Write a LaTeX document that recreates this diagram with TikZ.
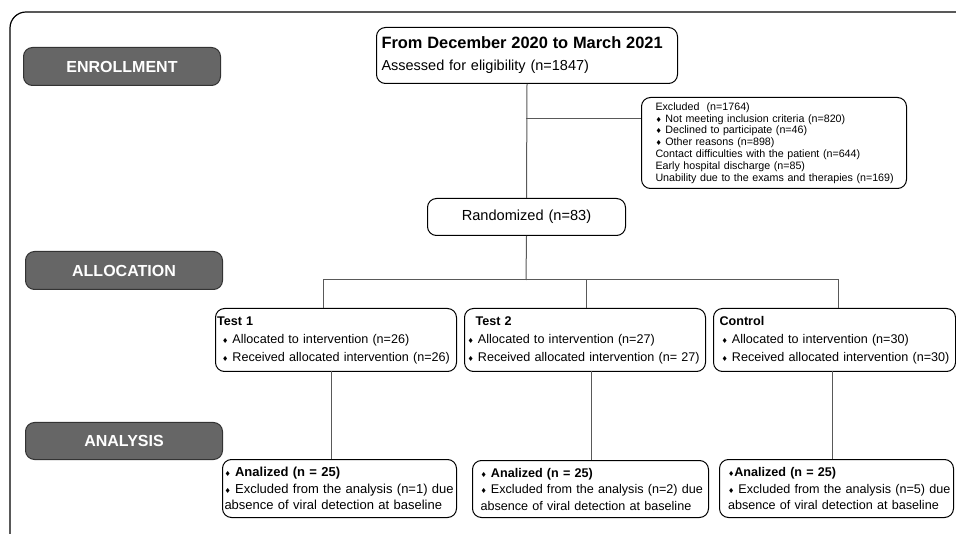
\documentclass[tikz,border=0pt]{standalone}
\usepackage{fontspec}
\setmainfont{Liberation Sans}
\newfontfamily\symf{DejaVu Sans}
\newcommand\dmd{{\symf\fontsize{7}{7}\selectfont ♦}}
\newcommand\ind[1]{\hspace*{#1}}
\begin{document}
\begin{tikzpicture}[x=1pt,y=-1pt,
 box/.style={draw=black, line width=1pt, rounded corners=9pt, anchor=north west, inner ysep=0pt, align=left},
 lbl/.style={draw=black!80, fill=black!60, line width=1pt, rounded corners=9pt, anchor=north west, minimum width=197pt, minimum height=38pt, inner sep=0pt, text=white, font=\fontsize{16}{16}\selectfont\bfseries},
 conn/.style={draw=black!65, line width=1pt}]
\useasboundingbox (0,0) rectangle (956,534);
\fill[white] (0,0) rectangle (956,534);
\draw[line width=1.2pt, rounded corners=16pt] (10,545) -- (10,12) -- (975,12);

% phase labels
\node[lbl] (enr) at (23,47) {ENROLLMENT};
\node[lbl] (alloc) at (25,251) {ALLOCATION};
\node[lbl, minimum height=37pt] (ana) at (25,422) {ANALYSIS};

% enrollment
\node[box, inner xsep=5pt, text width=291pt, minimum height=56pt, font=\fontsize{14.5}{22}\selectfont] (top) at (376,27)
 {\mbox{\bfseries\fontsize{16.4}{22}\selectfont From December 2020 to March 2021}\\\mbox{Assessed for eligibility (n=1847)}};
\node[box, inner xsep=14pt, text width=237pt, minimum height=91pt, font=\fontsize{10.7}{11.8}\selectfont] (excl) at (641,97)
 {\mbox{Excluded\ \ (n=1764)}\\
  \mbox{\dmd\ Not meeting inclusion criteria (n=820)}\\
  \mbox{\dmd\ Declined to participate (n=46)}\\
  \mbox{\dmd\ Other reasons (n=898)}\\
  \mbox{Contact difficulties with the patient (n=644)}\\
  \mbox{Early hospital discharge (n=85)}\\
  \mbox{Unability due to the exams and therapies (n=169)}};
\node[box, inner xsep=0pt, text width=198pt, align=center, minimum height=37pt, font=\fontsize{14.6}{16}\selectfont] (rand) at (427,198) {Randomized (n=83)};

% allocation
\tikzset{tb/.style={box, inner xsep=1.5pt, text width=238pt, minimum height=63pt, font=\fontsize{12.6}{18}\selectfont}}
\node[tb] (t1) at (215,308) {\mbox{\bfseries Test 1}\\\mbox{\ind{5pt}\dmd\ Allocated to intervention (n=26)}\\\mbox{\ind{5pt}\dmd\ Received allocated intervention (n=26)}};
\node[tb, inner xsep=3pt, text width=235pt] (t2) at (464,308) {\mbox{\ind{8pt}\bfseries Test 2}\\\mbox{\dmd\ Allocated to intervention (n=27)}\\\mbox{\dmd\ Received allocated intervention (n= 27)}};
\node[tb, inner xsep=6pt, text width=230pt] (t3) at (713,308) {\mbox{\bfseries Control}\\\mbox{\ind{2pt}\dmd\ Allocated to intervention (n=30)}\\\mbox{\ind{2pt}\dmd\ Received allocated intervention (n=30)}};

% analysis
\tikzset{ab/.style={box, minimum height=58pt, font=\fontsize{12.6}{16.5}\selectfont}}
\node[ab, inner xsep=2pt, text width=230pt, font=\fontsize{13}{16.5}\selectfont] (a1) at (222,459) {\mbox{\dmd\ {\bfseries Analized (n = 25)}}\\\mbox{\dmd\ Excluded from the analysis (n=1) due}\\\mbox{absence of viral detection at baseline}};
\node[ab, inner xsep=8pt, text width=220pt, minimum height=57pt] (a2) at (472,460) {\mbox{\dmd\ {\bfseries Analized (n = 25)}}\\\mbox{\dmd\ Excluded from the analysis (n=2) due}\\\mbox{absence of viral detection at baseline}};
\node[ab, inner xsep=8.5pt, text width=217pt] (a3) at (719,459) {\mbox{\dmd{\bfseries Analized (n = 25)}}\\\mbox{\dmd\ Excluded from the analysis (n=5) due}\\\mbox{absence of viral detection at baseline}};

% connectors
\coordinate (j1) at (526,119);
\coordinate (sp) at (526,280);
\coordinate (sl) at (323,280);
\coordinate (sm) at (586,280);
\coordinate (sr) at (838,280);
\draw[conn] (top.south) -- (rand.north);
\draw[conn] (j1) -- (j1 -| excl.west);
\draw[conn] (rand.south) -- (sp);
\draw[conn] (sl |- t1.north) -- (sl) -- (sr) -- (sr |- t3.north);
\draw[conn] (sm) -- (sm |- t2.north);
\draw[conn] (331,371) coordinate (d1) -- (d1 |- a1.north);
\draw[conn] (591,371) coordinate (d2) -- (d2 |- a2.north);
\draw[conn] (832,371) coordinate (d3) -- (d3 |- a3.north);
\end{tikzpicture}
\end{document}
